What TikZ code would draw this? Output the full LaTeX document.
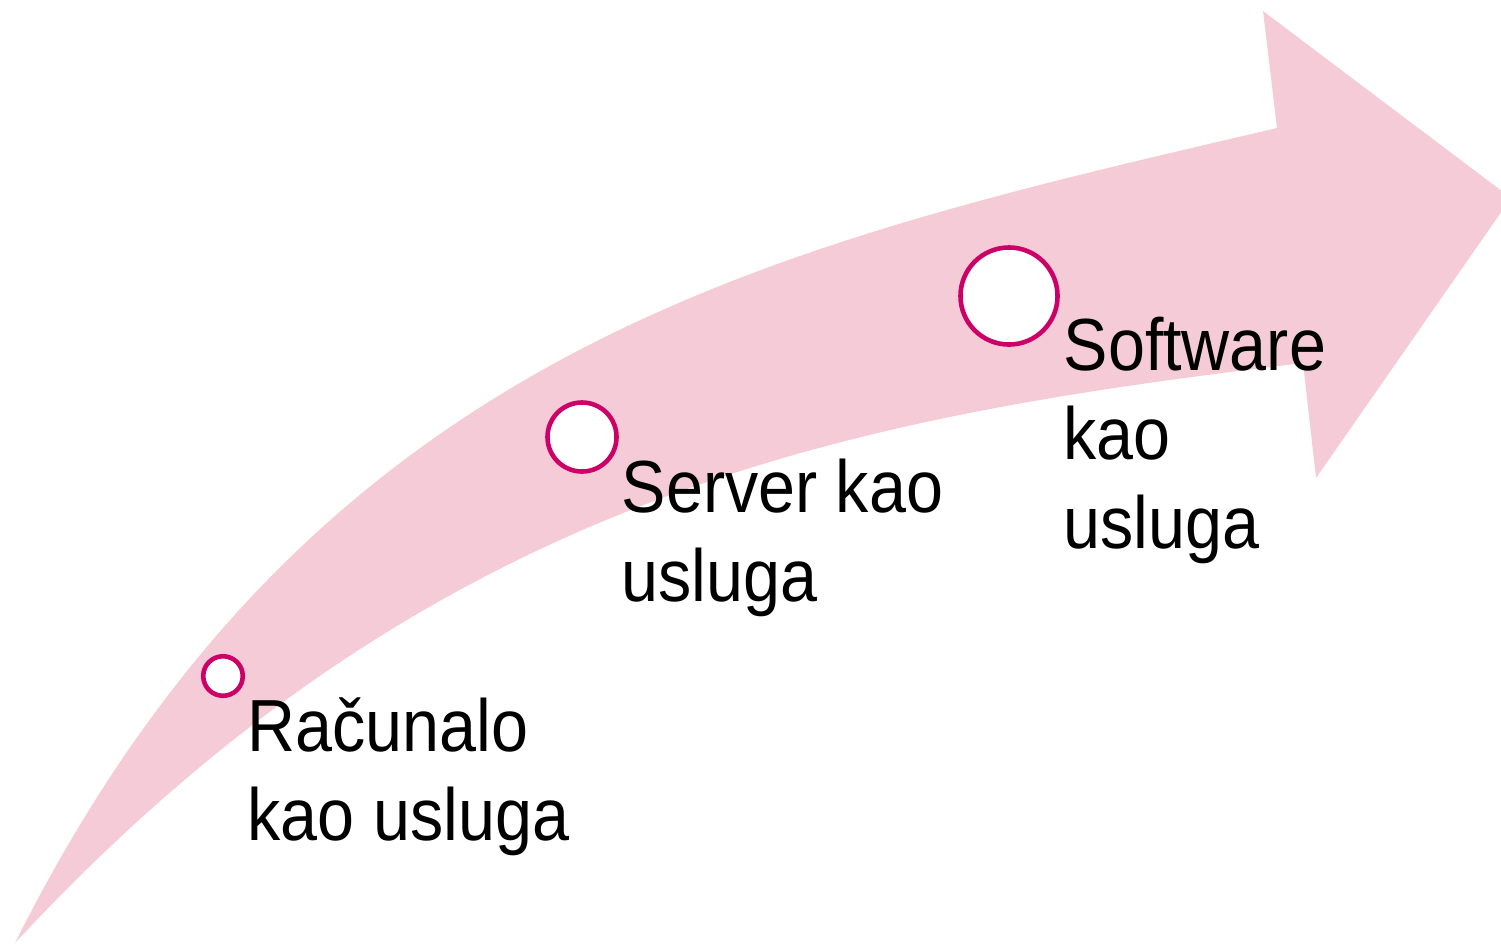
\documentclass[tikz,border=0pt]{standalone}
\usepackage{fontspec}
\setmainfont[FakeStretch=0.9]{Liberation Sans}
\definecolor{bandpink}{RGB}{245,203,216}
\definecolor{ringmagenta}{RGB}{204,0,102}
\begin{document}
\begin{tikzpicture}[x=0.01cm,y=-0.01cm]
		\tikzset{ring/.style = {shape=circle,draw=ringmagenta,line width=1.3pt,fill=white,inner sep=0pt}}
		\tikzset{lbl/.style = {anchor=base west,align=left,inner sep=0pt,font=\fontsize{21}{25.3}\selectfont}}

		\useasboundingbox (0,0) rectangle (1501,945);
		\clip (0,0) rectangle (1501,945);

		\fill[bandpink] (15,943) .. controls (315,343) and (777,245) .. (1277,128) -- (1263,11) -- (1511,198) -- (1316,478) -- (1303,363) .. controls (853,417) and (435,490) .. (15,943) -- cycle;

		\node[ring,minimum size=0.395cm] (c1) at (223,676) {};
		\node[ring,minimum size=0.69cm] (c2) at (582,437) {};
		\node[ring,minimum size=0.97cm] (c3) at (1009,296) {};

		\node[lbl] (racunalo) at (247,840) {Računalo\\kao usluga};
		\node[lbl] (server) at (621,601) {Server kao\\usluga};
		\node[lbl] (software) at (1063,548) {Software\\kao\\usluga};

	\end{tikzpicture}
\end{document}
